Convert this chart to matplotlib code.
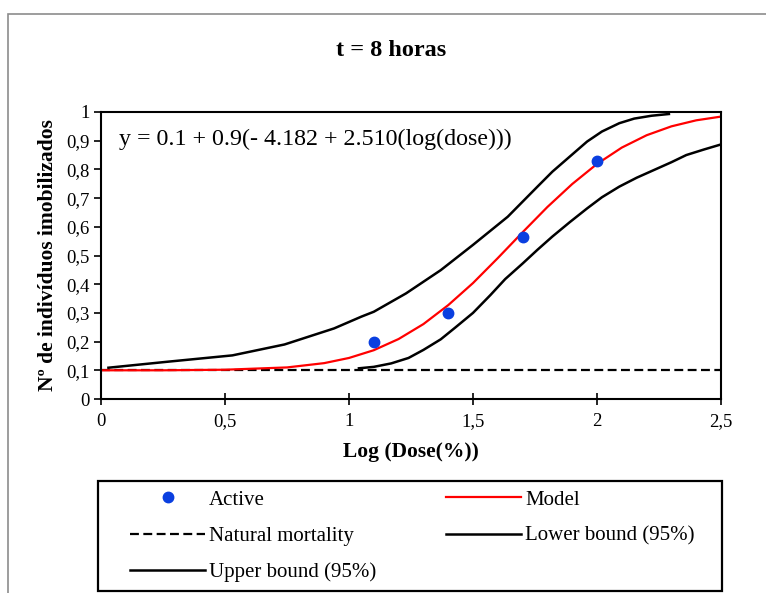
import matplotlib.pyplot as plt
from matplotlib.patches import Rectangle

plt.rcParams['font.family'] = ['Liberation Serif', 'DejaVu Serif']

# observed data (Active)
active_x = [1.1, 1.4, 1.7, 2.0]
active_y = [0.20, 0.30, 0.565, 0.83]

# fitted model
model_x = [0.0, 0.25, 0.5, 0.75, 0.9, 1.0, 1.1, 1.2, 1.3, 1.4, 1.5, 1.6,
           1.7, 1.8, 1.9, 2.0, 2.1, 2.2, 2.3, 2.4, 2.5]
model_y = [0.100, 0.100, 0.102, 0.110, 0.125, 0.143, 0.170, 0.209, 0.261,
           0.327, 0.404, 0.491, 0.581, 0.669, 0.749, 0.819, 0.876, 0.919,
           0.950, 0.971, 0.984]

# 95% bounds
upper_x = [0.03, 0.27, 0.53, 0.74, 0.94, 1.05, 1.10, 1.23, 1.37, 1.50,
           1.64, 1.76, 1.82, 1.90, 1.96, 2.02, 2.09, 2.15, 2.22, 2.29]
upper_y = [0.109, 0.130, 0.152, 0.190, 0.246, 0.287, 0.304, 0.368, 0.449,
           0.537, 0.635, 0.740, 0.792, 0.852, 0.897, 0.932, 0.961, 0.977,
           0.987, 0.993]

lower_x = [1.04, 1.10, 1.17, 1.24, 1.30, 1.37, 1.43, 1.50, 1.57, 1.63,
           1.70, 1.76, 1.82, 1.89, 1.96, 2.02, 2.09, 2.16, 2.23, 2.30,
           2.36, 2.43, 2.50]
lower_y = [0.107, 0.112, 0.124, 0.143, 0.171, 0.208, 0.250, 0.300, 0.362,
           0.418, 0.472, 0.520, 0.566, 0.616, 0.664, 0.703, 0.740, 0.771,
           0.798, 0.825, 0.850, 0.869, 0.887]

natural_x = [0.0, 2.5]
natural_y = [0.1, 0.1]

x_ticks = [0, 0.5, 1, 1.5, 2, 2.5]
x_labels = ['0', '0,5', '1', '1,5', '2', '2,5']
y_ticks = [0, 0.1, 0.2, 0.3, 0.4, 0.5, 0.6, 0.7, 0.8, 0.9, 1]
y_labels = ['0', '0,1', '0,2', '0,3', '0,4', '0,5', '0,6', '0,7', '0,8', '0,9', '1']

fig = plt.figure(figsize=(7.66, 5.93), dpi=100)
ax = fig.add_axes([101 / 766, 1 - 399 / 593, 620 / 766, 287 / 593])

# gray outer border of the chart area
fig.patches.append(Rectangle((8 / 766, -0.2), 1.0, 1.2 - 14 / 593,
                             transform=fig.transFigure, fill=False,
                             edgecolor='#8c8c8c', linewidth=1.2))
# legend frame
fig.patches.append(Rectangle((98 / 766, 1 - 591 / 593), 624 / 766, 110 / 593,
                             transform=fig.transFigure, fill=False,
                             edgecolor='black', linewidth=1.6))

h_nat, = ax.plot(natural_x, natural_y, color='black', linestyle=(0, (4, 2)),
                 linewidth=1.6, label='Natural mortality')
h_low, = ax.plot(lower_x, lower_y, color='black', linewidth=1.8,
                 label='Lower bound (95%)')
h_up, = ax.plot(upper_x, upper_y, color='black', linewidth=1.8,
                label='Upper bound (95%)')
h_mod, = ax.plot(model_x, model_y, color='#ff0000', linewidth=1.6, label='Model')
h_act, = ax.plot(active_x, active_y, 'o', color='#0a3fe0', markersize=7.5,
                 label='Active')

ax.set_xlim(0, 2.5)
ax.set_ylim(0, 1)
ax.set_xticks(x_ticks)
ax.set_xticklabels(x_labels)
ax.set_yticks(y_ticks)
ax.set_yticklabels(y_labels)
ax.tick_params(axis='x', direction='inout', length=8, width=1.2, labelsize=13.5, pad=6)
ax.tick_params(axis='y', direction='out', length=5, width=1.2, labelsize=13.5, pad=3)
for s in ax.spines.values():
    s.set_linewidth(1.5)

ax.set_xlabel('Log (Dose(%))', fontsize=15.5, fontweight='bold')
ax.set_ylabel('Nº de indivíduos imobilizados', fontsize=15.5, fontweight='bold')
ax.xaxis.set_label_coords(0.5, -0.15)
ax.yaxis.set_label_coords(-0.069, 0.5)
fig.text(391 / 766, 1 - 50 / 593, 't = 8 horas', fontsize=17.5, fontweight='bold',
         ha='center', va='center')
ax.text(0.029, 0.905, 'y = 0.1 + 0.9(- 4.182 + 2.510(log(dose)))', transform=ax.transAxes,
        fontsize=17.3, ha='left', va='center')

leg = fig.legend(handles=[h_act, h_nat, h_up, h_mod, h_low], ncol=2,
                 loc='upper left', mode='expand',
                 bbox_to_anchor=(130 / 766, 1 - 586 / 593, (695 - 130) / 766, 96 / 593),
                 fontsize=15, frameon=False,
                 handlelength=3.6, handletextpad=0.2, labelspacing=0.8,
                 borderpad=0, borderaxespad=0, columnspacing=8)

fig.savefig('out.png', dpi=100)
